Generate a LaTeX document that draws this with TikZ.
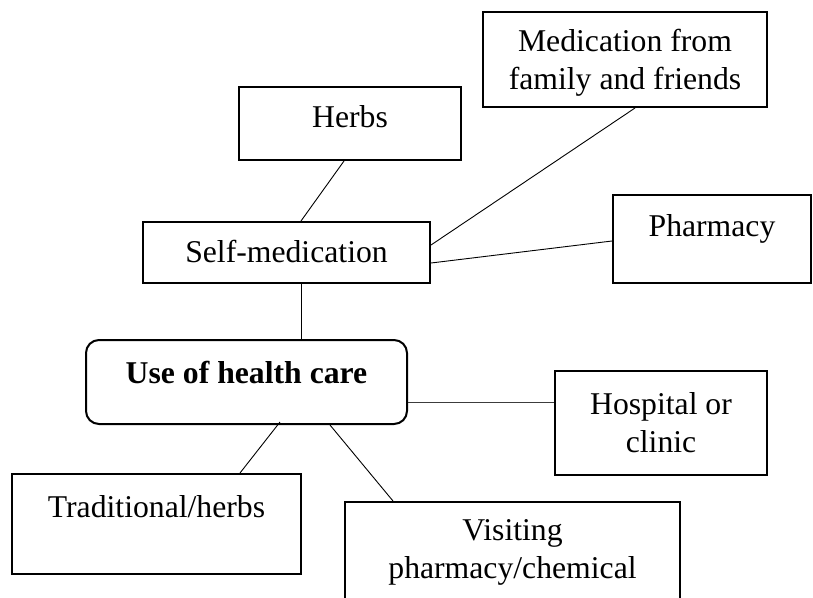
\documentclass[tikz,border=0pt]{standalone}
\usepackage{fontspec}
\setmainfont{Liberation Serif}
\usetikzlibrary{positioning}
\definecolor{ink}{RGB}{0,0,0}
\definecolor{wire}{RGB}{60,60,60}
\tikzset{
  frame/.style={draw=ink,line width=2pt,align=center,inner sep=4pt},
  care/.style={frame,rounded corners=13pt,font=\fontsize{31.7}{38}\selectfont\bfseries},
  lift/.style={text height=24pt,text depth=#1},
  lift/.default=6pt,
  link/.style={draw=#1,line width=0.9pt},
  link/.default=ink,
}
\begin{document}
\begin{tikzpicture}[x=1pt,y=-1pt,font=\fontsize{31.7}{38}\selectfont]
  \useasboundingbox (0,0) rectangle (813,597);
  \clip (0,0) rectangle (813,597);
  % sources of care
  \node[frame,lift=17pt,minimum width=222pt,minimum height=73pt] (herbs) at (350,123.5) {Herbs};
  \node[frame,text height=67pt,minimum width=284pt,minimum height=95pt] (famfriends) at (625,59.5) {Medication from\\family and friends};
  \node[frame,lift=5pt,minimum width=287pt,minimum height=61pt] (selfmed) at (286.5,252.5) {Self-medication};
  \node[frame,lift=30pt,minimum width=198pt,minimum height=88pt] (pharmacy) at (712,239) {Pharmacy};
  \node[care,lift=22pt,minimum width=321pt,minimum height=84pt] (use) at (246.5,382) {Use of health care};
  \node[frame,minimum width=212pt,minimum height=104pt] (hospital) at (661,423) {Hospital or\\clinic};
  \node[frame,lift=38pt,minimum width=289pt,minimum height=100pt] (trad) at (156.5,524) {Traditional/herbs};
  \node[frame,minimum width=335pt,minimum height=100pt] (visit) at (512.5,552) {Visiting\\pharmacy/chemical};
  % connectors
  \draw[link] ([xshift=-6pt]herbs.south) -- ([xshift=14.5pt]selfmed.north);
  \draw[link] ([yshift=7.5pt]selfmed.east) -- ([xshift=10pt]famfriends.south);
  \draw[link] ([yshift=-10.5pt]selfmed.east) -- ([yshift=-2pt]pharmacy.west);
  \draw[link] ([xshift=14.5pt]selfmed.south) -- ([xshift=54.5pt]use.north);
  \draw[link=wire] ([yshift=-20pt]use.east) -- ([yshift=-20pt]use.east -| hospital.west);
  \draw[link] ([xshift=33.5pt,yshift=3pt]use.south) -- ([xshift=83.5pt]trad.north);
  \draw[link] ([xshift=83.5pt]use.south) -- ([xshift=-119.5pt]visit.north);
\end{tikzpicture}
\end{document}
